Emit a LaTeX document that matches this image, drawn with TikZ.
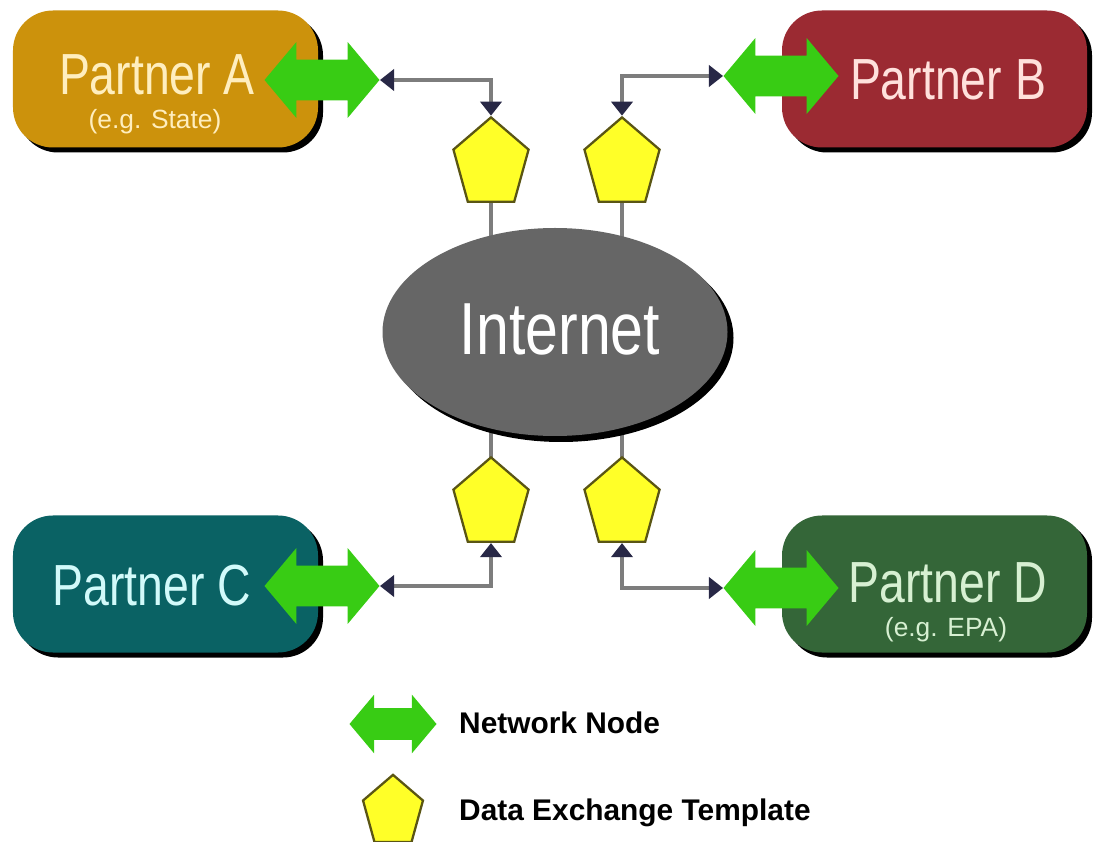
\documentclass[tikz,border=0pt]{standalone}
\usepackage{fontspec}
\setmainfont{Liberation Sans}
\newfontfamily\narrowsf[FakeStretch=0.8]{Liberation Sans}
\usepackage{tikz}
\usetikzlibrary{arrows.meta, shapes.geometric, shapes.arrows, shadows, backgrounds}
\definecolor{partA}{RGB}{204, 146, 12}
\definecolor{partB}{RGB}{155, 42, 50}
\definecolor{partC}{RGB}{10, 98, 100}
\definecolor{partD}{RGB}{52, 102, 56}
\definecolor{txtA}{RGB}{255, 238, 190}
\definecolor{txtB}{RGB}{255, 225, 220}
\definecolor{txtC}{RGB}{210, 250, 250}
\definecolor{txtD}{RGB}{215, 240, 210}
\definecolor{netGreen}{RGB}{56, 204, 20}
\definecolor{tmplYellow}{RGB}{255, 255, 40}
\definecolor{tmplEdge}{RGB}{90, 85, 20}
\definecolor{linkGray}{RGB}{125, 125, 125}
\definecolor{tipNavy}{RGB}{40, 40, 70}
\definecolor{cloudGray}{RGB}{102, 102, 102}

\begin{document}
\begin{tikzpicture}[
  partner/.style={rectangle, rounded corners=0.8cm, minimum width=6.1cm,
    minimum height=2.74cm, inner sep=0pt,
    drop shadow={shadow xshift=0.1cm, shadow yshift=-0.1cm, fill=black, opacity=1}},
  netnode/.style={double arrow, fill=netGreen, double arrow tip angle=100,
    double arrow head extend=0.35cm, minimum width=1.5cm, minimum height=2.3cm,
    inner xsep=0pt, inner ysep=0.4cm},
  template/.style={regular polygon, regular polygon sides=5, minimum size=1.58cm,
    inner sep=0pt, fill=tmplYellow, draw=tmplEdge, line width=1.3pt, yscale=1.18, transform shape},
  link/.style={draw=linkGray, line width=2pt,
    {Triangle[length=8pt, width=12pt, color=tipNavy]}-{Triangle[length=8pt, width=12pt, color=tipNavy]}},
  bigtxt/.style={font=\narrowsf\fontsize{33}{36}\selectfont, anchor=base},
  smalltxt/.style={font=\fontsize{15}{17}\selectfont, anchor=base},
  keytxt/.style={font=\bfseries\fontsize{17}{20}\selectfont, anchor=base west},
]
  \useasboundingbox (0,0) rectangle (21.94,-16.84);

  % Partners
  \node[partner, fill=partA] (boxA) at (3.31,-1.58) {};
  \node[partner, fill=partB] (boxB) at (18.69,-1.58) {};
  \node[partner, fill=partC] (boxC) at (3.31,-11.68) {};
  \node[partner, fill=partD] (boxD) at (18.69,-11.68) {};

  \node[bigtxt, txtA] (nameA) at (3.14,-1.9) {Partner A};
  \node[smalltxt, txtA] (noteA) at (3.1,-2.58) {(e.g. State)};
  \node[bigtxt, txtB] (nameB) at (18.96,-2.0) {Partner B};
  \node[bigtxt, txtC] (nameC) at (3.04,-12.1) {Partner C};
  \node[bigtxt, txtD] (nameD) at (18.96,-12.04) {Partner D};
  \node[smalltxt, txtD] (noteD) at (18.92,-12.72) {(e.g. EPA)};

  % Network nodes
  \node[netnode] (ga) at (6.44,-1.6) {};
  \node[netnode] (gb) at (15.62,-1.52) {};
  \node[netnode] (gc) at (6.44,-11.72) {};
  \node[netnode] (gd) at (15.62,-11.76) {};

  % Internet
  \node[ellipse, fill=cloudGray, minimum width=6.9cm, minimum height=4.16cm,
    drop shadow={shadow xshift=0.12cm, shadow yshift=-0.12cm, fill=black, opacity=1}]
    (inet) at (11.1,-6.64) {};
  \node[font=\narrowsf\fontsize{42}{44}\selectfont, white, anchor=base] (inettxt)
    at (11.2,-7.1) {Internet};

  % Data exchange templates
  \node[template] (pa) at (9.82,-3.28) {};
  \node[template] (pb) at (12.44,-3.28) {};
  \node[template] (pc) at (9.82,-10.08) {};
  \node[template] (pd) at (12.44,-10.08) {};

  \begin{scope}[on background layer]
    \draw[linkGray, line width=2pt] (pa.center) -- (pa.center |- inet.center);
    \draw[linkGray, line width=2pt] (pb.center) -- (pb.center |- inet.center);
    \draw[linkGray, line width=2pt] (pc.center) -- (pc.center |- inet.center);
    \draw[linkGray, line width=2pt] (pd.center) -- (pd.center |- inet.center);
  \end{scope}

  \draw[link] (ga.east) -| (pa.north);
  \draw[link] (gb.west) -| (pb.north);
  \draw[link] (gc.east) -| (pc.south);
  \draw[link] (gd.west) -| (pd.south);

  % Legend
  \node[netnode, minimum width=1.16cm, minimum height=1.74cm,
    double arrow head extend=0.27cm, inner ysep=0.31cm] (keynet) at (7.86,-14.48) {};
  \node[keytxt] (keynettxt) at (9.06,-14.66) {Network Node};
  \node[template, minimum size=1.26cm] (keytmpl) at (7.86,-16.24) {};
  \node[keytxt] (keytmpltxt) at (9.06,-16.4) {Data Exchange Template};
\end{tikzpicture}
\end{document}
